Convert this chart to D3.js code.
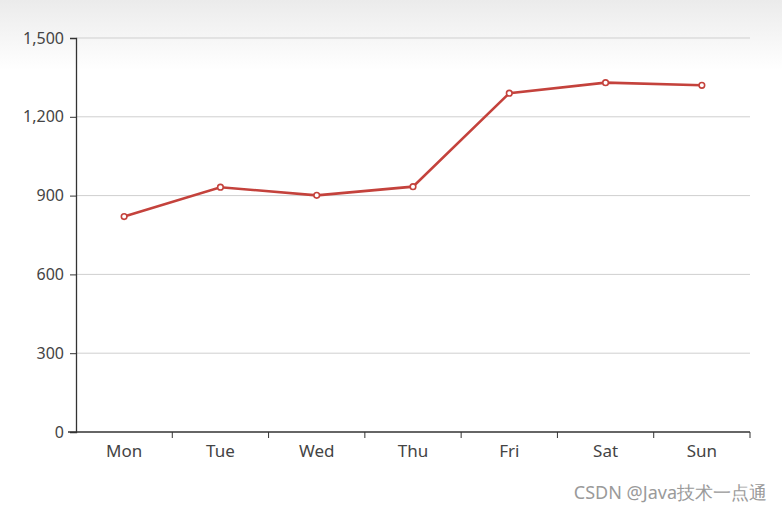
<!DOCTYPE html>
<html>
<head>
<meta charset="utf-8">
<script src="https://cdn.jsdelivr.net/npm/d3@7"></script>
<style>
  body { margin: 0; background: #fff; }
  svg { display: block; }
</style>
</head>
<body>
<div id="chart"></div>
<script>
const days = ["Mon", "Tue", "Wed", "Thu", "Fri", "Sat", "Sun"];
const values = [820, 932, 901, 934, 1290, 1330, 1320];
const yTicks = [0, 300, 600, 900, 1200, 1500];

const width = 782, height = 512;
const margin = { top: 38, right: 32, bottom: 80, left: 76 };
const innerW = width - margin.left - margin.right;
const innerH = height - margin.top - margin.bottom;

const svg = d3.select("#chart").append("svg")
    .attr("width", width)
    .attr("height", height)
    .style("font-family", "'Noto Sans', 'DejaVu Sans', sans-serif");

// faint grey wash at the top of the screenshot
const grad = svg.append("defs").append("linearGradient")
    .attr("id", "topfade").attr("x1", 0).attr("y1", 0).attr("x2", 0).attr("y2", 1);
grad.append("stop").attr("offset", "0%").attr("stop-color", "#ebebeb");
grad.append("stop").attr("offset", "100%").attr("stop-color", "#ffffff");
svg.append("rect").attr("width", width).attr("height", 70).attr("fill", "url(#topfade)");

const g = svg.append("g").attr("transform", `translate(${margin.left},${margin.top})`);

const x = d3.scaleBand().domain(days).range([0, innerW]);
const y = d3.scaleLinear().domain([0, 1500]).range([innerH, 0]);

// grid lines
g.selectAll(".grid")
    .data(yTicks.slice(1))
    .enter().append("line")
    .attr("class", "grid")
    .attr("x1", 0).attr("x2", innerW)
    .attr("y1", d => y(d)).attr("y2", d => y(d))
    .attr("stroke", "#cfcfcf")
    .attr("stroke-width", 1);

// y axis
const yAxis = g.append("g")
    .call(d3.axisLeft(y).tickValues(yTicks).tickSize(6).tickPadding(6).tickFormat(d3.format(",")));
yAxis.select(".domain").attr("stroke", "#333").attr("stroke-width", 1.3);
yAxis.selectAll(".tick line").attr("stroke", "#333");
yAxis.selectAll("text")
    .attr("fill", "#444")
    .attr("font-size", null)
    .style("font-size", "16px")
    .style("font-family", "'Noto Sans', sans-serif");

// x axis with ticks on band boundaries
const xAxis = g.append("g").attr("transform", `translate(0,${innerH})`);
xAxis.append("line")
    .attr("x1", -8).attr("x2", innerW)
    .attr("stroke", "#333").attr("stroke-width", 1.3);
xAxis.selectAll(".xtick")
    .data(days.slice(1).concat(["end"]))
    .enter().append("line")
    .attr("x1", (d, i) => x.step() * (i + 1))
    .attr("x2", (d, i) => x.step() * (i + 1))
    .attr("y1", 0).attr("y2", 6)
    .attr("stroke", "#333");
xAxis.selectAll(".xlabel")
    .data(days)
    .enter().append("text")
    .attr("x", d => x(d) + x.bandwidth() / 2)
    .attr("y", 25)
    .attr("text-anchor", "middle")
    .attr("fill", "#444")
    .style("font-size", "17px")
    .text(d => d);

// line series
const line = d3.line()
    .x((d, i) => x(days[i]) + x.bandwidth() / 2)
    .y(d => y(d));

g.append("path")
    .datum(values)
    .attr("fill", "none")
    .attr("stroke", "#c4423c")
    .attr("stroke-width", 2.6)
    .attr("d", line);

g.selectAll(".dot")
    .data(values)
    .enter().append("circle")
    .attr("cx", (d, i) => x(days[i]) + x.bandwidth() / 2)
    .attr("cy", d => y(d))
    .attr("r", 2.8)
    .attr("fill", "#fff")
    .attr("stroke", "#c4423c")
    .attr("stroke-width", 1.6);

// watermark
svg.append("text")
    .attr("x", 767).attr("y", 499)
    .attr("text-anchor", "end")
    .attr("fill", "#9a9a9a")
    .style("font-size", "18px")
    .text("CSDN @Java技术一点通");
</script>
</body>
</html>
